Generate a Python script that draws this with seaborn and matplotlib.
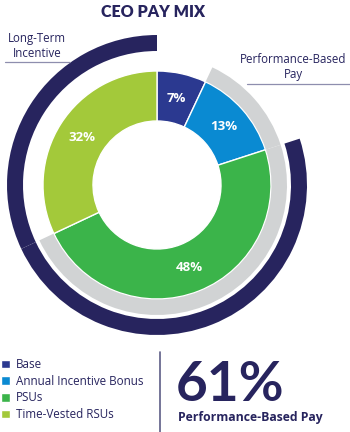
import matplotlib
matplotlib.use("Agg")
import matplotlib.pyplot as plt
import seaborn as sns
from matplotlib.lines import Line2D

# ---- data ----
title = "CEO PAY MIX"
categories = ["Base", "Annual Incentive Bonus", "PSUs", "Time-Vested RSUs"]
pay_mix = [7, 13, 48, 32]
performance_based = ["Annual Incentive Bonus", "PSUs"]
long_term = ["PSUs", "Time-Vested RSUs"]
ring_labels = ["Long-Term\nIncentive", "Performance-Based\nPay"]
headline_value = "61%"
headline_label = "Performance-Based Pay"

# ---- style ----
sns.set_theme(style="white")
plt.rcParams['font.family'] = ['Open Sans', 'DejaVu Sans']

colors = ["#2B3990", "#0A8AD2", "#3BB44A", "#A3C93A"]
NAVY = "#27245E"
GRAY = "#D1D3D4"
LINE = "#8E8EAE"

W, H = 350, 432
fig = plt.figure(figsize=(W / 100, H / 100), dpi=100)
cx, cy, half = 157, 185, 160
ax = fig.add_axes([(cx - half) / W, (H - cy - half) / H, 2 * half / W, 2 * half / H])

# main donut
wedges, _, autotexts = ax.pie(
    pay_mix, colors=colors, startangle=90, counterclock=False, radius=114,
    wedgeprops=dict(width=50, edgecolor="white", linewidth=1),
    autopct=lambda p: f"{p:.0f}%", pctdistance=0.78,
    textprops=dict(color="white", fontsize=9.5, fontweight="bold"))

# performance-based ring (gray)
ax.pie(pay_mix, colors=[GRAY if c in performance_based else "none" for c in categories],
       startangle=90, counterclock=False, radius=130,
       wedgeprops=dict(width=15.5, edgecolor="none", linewidth=0))

# long-term ring (navy)
ax.pie(pay_mix, colors=[NAVY if c in long_term else "none" for c in categories],
       startangle=90, counterclock=False, radius=150,
       wedgeprops=dict(width=16, edgecolor="none", linewidth=0))

ax.set_xlim(-half, half)
ax.set_ylim(-half, half)
ax.set_aspect("equal")
ax.axis("off")

def fx(px):
    return px / W

def fy(py):
    return 1 - py / H

fig.text(fx(153), fy(12), title, ha="center", va="center", fontsize=11.5,
         fontweight="heavy", color=NAVY, family=["Lato", "DejaVu Sans"])

fig.text(fx(37), fy(46), ring_labels[0], ha="center", va="center", fontsize=8.3,
         color=NAVY, linespacing=1.25)
fig.add_artist(Line2D([fx(5), fx(70)], [fy(62), fy(62)], transform=fig.transFigure,
                      color=LINE, lw=0.9))

fig.text(fx(293), fy(67), ring_labels[1], ha="center", va="center", fontsize=8.3,
         color=NAVY, linespacing=1.25)
fig.add_artist(Line2D([fx(247), fx(350)], [fy(84), fy(84)], transform=fig.transFigure,
                      color=LINE, lw=0.9))

# legend
fig.legend(wedges, categories, loc="upper left", bbox_to_anchor=(fx(1), fy(358)),
           bbox_transform=fig.transFigure, frameon=False, fontsize=8.4,
           labelcolor=NAVY, handlelength=0.75, handleheight=0.75,
           handletextpad=0.55, labelspacing=0.32, borderaxespad=0, borderpad=0)

# divider
fig.add_artist(Line2D([fx(160), fx(160)], [fy(352), fy(432)], transform=fig.transFigure,
                      color="#5E5E86", lw=1.2))

fig.text(fx(176), fy(401), headline_value, ha="left", va="baseline", fontsize=39.5,
         fontweight="bold", color=NAVY, family=["Lato", "DejaVu Sans"])
fig.text(fx(178), fy(421), headline_label, ha="left", va="baseline", fontsize=8.8,
         fontweight="bold", color=NAVY)

fig.savefig("out.png", dpi=100)
